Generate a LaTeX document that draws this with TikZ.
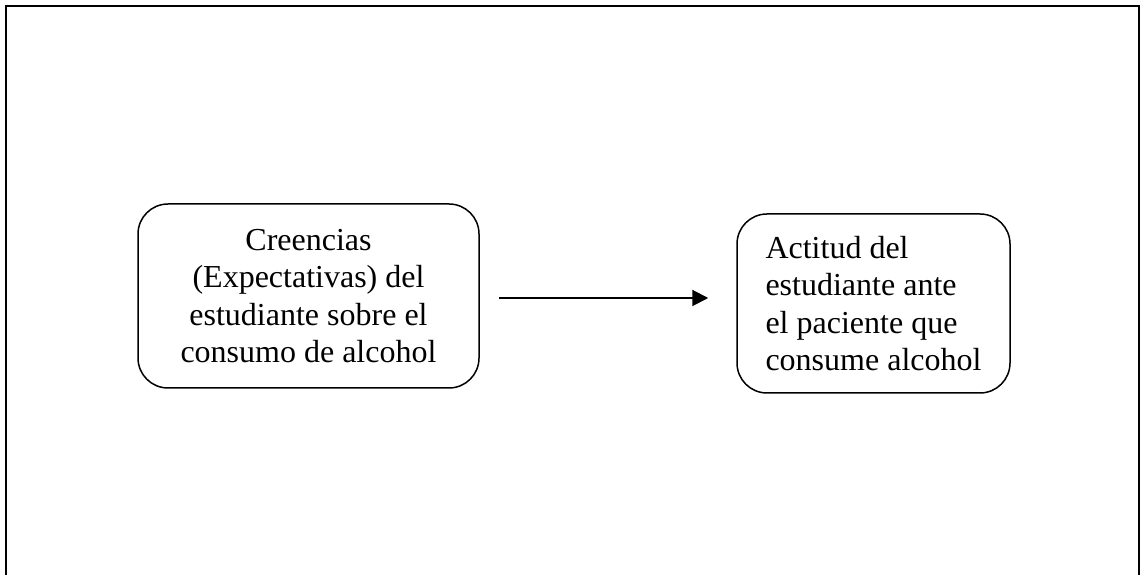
\documentclass[tikz,border=0pt]{standalone}
\usepackage{fontspec}
\setmainfont{Liberation Serif}
\usetikzlibrary{arrows.meta}

\begin{document}
\begin{tikzpicture}[x=1pt, y=1pt,
    caja/.style={rectangle, draw=black, line width=1.5pt, rounded corners=30pt, inner sep=0pt,
                 font=\fontsize{32}{37.5}\selectfont},
    flecha/.style={line width=2pt, -{Triangle[length=16pt, width=16pt]}}]
    \useasboundingbox (0,0) rectangle (1140,575);
    % marco exterior
    \draw[line width=2pt] (6,-10) -- (6,569) -- (1139,569) -- (1139,-10);

    \node[caja, minimum width=341pt, minimum height=184pt, align=center] (crea) at (308.5,279) {Creencias\\(Expectativas) del\\estudiante sobre el\\consumo de alcohol};
    \node[caja, minimum width=273pt, minimum height=179pt, align=left] (actitud) at (873.5,271.5) {Actitud del\\estudiante ante\\el paciente que\\consume alcohol};

    \draw[flecha, shorten <=19pt, shorten >=28pt] ([yshift=-2pt]crea.east) -- ([yshift=-2pt]crea.east -| actitud.west);
\end{tikzpicture}
\end{document}
